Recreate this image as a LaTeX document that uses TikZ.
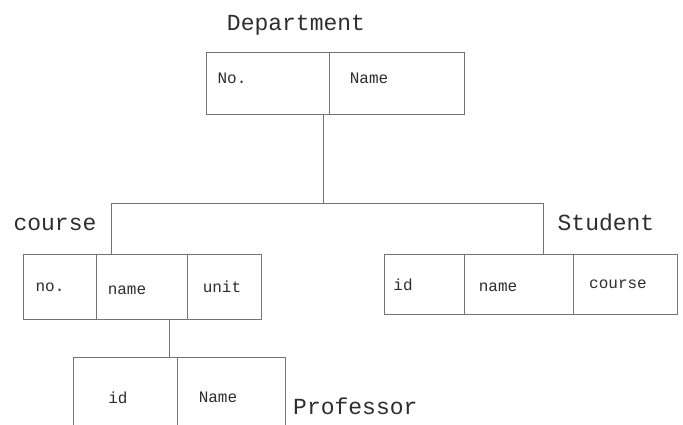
\documentclass[tikz,border=0pt]{standalone}
\usepackage{fontspec}
\setmonofont{Liberation Mono}
\begin{document}
\begin{tikzpicture}[x=1pt,y=-1pt,
  cell/.style={draw=black!55, line width=0.9pt, anchor=north west, inner sep=0pt, outer sep=0pt},
  title/.style={font=\ttfamily\fontsize{23}{25}\selectfont, text=black!82, inner sep=0pt},
  field/.style={font=\ttfamily\fontsize{16}{18}\selectfont, text=black!82, inner sep=0pt},
  link/.style={draw=black!55, line width=0.9pt}]
\useasboundingbox (0,0) rectangle (683,425);
\fill[white] (0,0) rectangle (683,425);
\clip (0,0) rectangle (683,425);
% Department
\node[title] (tdep) at (296,25) {Department};
\node[cell, minimum width=123pt, minimum height=62pt] (d1) at (206,52) {};
\node[cell, minimum width=135pt, minimum height=62pt] (d2) at (329,52) {};
\node[field] (d1t) at (232,78) {No.};
\node[field] (d2t) at (369,78) {Name};
% course
\node[title] (tcou) at (55,224) {course};
\node[cell, minimum width=73pt, minimum height=65pt] (c1) at (23,254) {};
\node[cell, minimum width=91pt, minimum height=65pt] (c2) at (96,254) {};
\node[cell, minimum width=74pt, minimum height=65pt] (c3) at (187,254) {};
\node[field] (c1t) at (50,287) {no.};
\node[field] (c2t) at (127,290) {name};
\node[field] (c3t) at (222,287) {unit};
% Student
\node[title] (tstu) at (606,222) {Student};
\node[cell, minimum width=80pt, minimum height=60pt] (s1) at (384,254) {};
\node[cell, minimum width=109pt, minimum height=60pt] (s2) at (464,254) {};
\node[cell, minimum width=104pt, minimum height=60pt] (s3) at (573,254) {};
\node[field] (s1t) at (403,285) {id};
\node[field] (s2t) at (498,287) {name};
\node[field] (s3t) at (618,284) {course};
% Professor
\node[cell, minimum width=104pt, minimum height=100pt] (p1) at (73,357) {};
\node[cell, minimum width=108pt, minimum height=100pt] (p2) at (177,357) {};
\node[field] (p1t) at (118,398) {id};
\node[field] (p2t) at (218,397) {Name};
\node[title, anchor=west] (tpro) at (293,406) {Professor};
% connectors
\coordinate (j) at (323,203);
\coordinate (jc) at (111,203);
\coordinate (js) at (543,203);
\coordinate (jp) at (169,340);
\draw[link] (d1.south -| j) -- (j);
\draw[link] (c2.north -| jc) -- (jc) -- (js) -- (s2.north -| js);
\draw[link] (c2.south -| jp) -- (p1.north -| jp);
\end{tikzpicture}
\end{document}
